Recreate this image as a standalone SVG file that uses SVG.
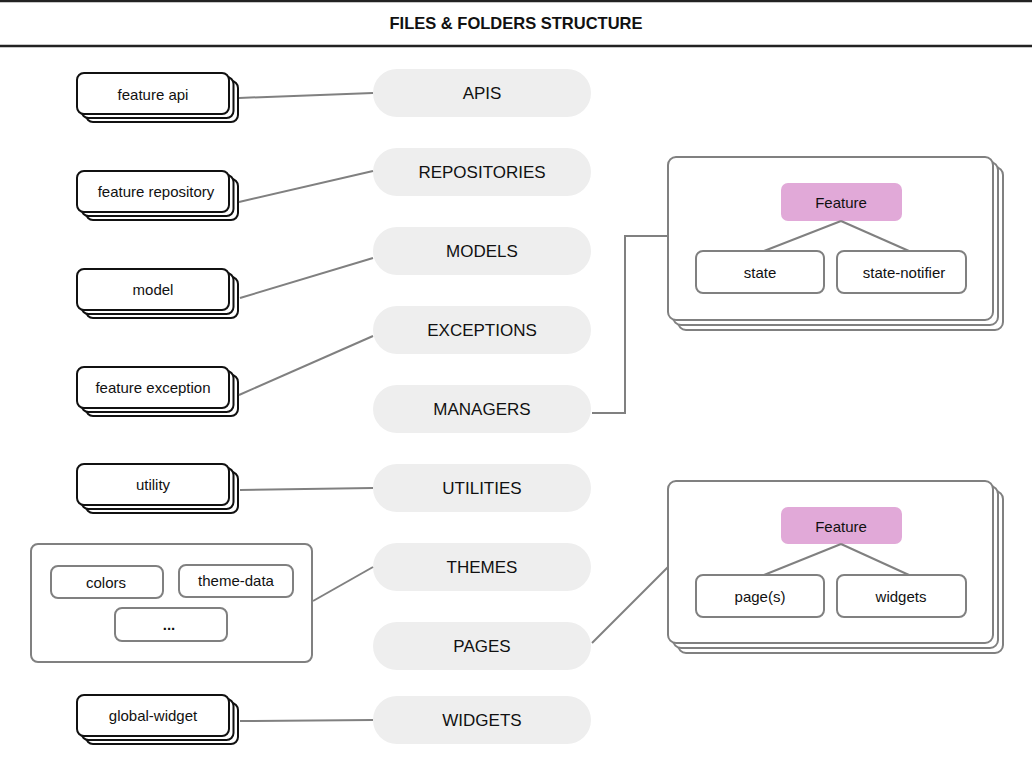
<svg xmlns="http://www.w3.org/2000/svg" width="1032" height="778" viewBox="0 0 1032 778">
<style>
.bg{fill:#ffffff}
.rule{stroke:#222;stroke-width:2.5}
.title{font-family:"Liberation Sans",Arial,sans-serif;font-weight:bold;font-size:16.5px;fill:#111;text-anchor:middle;dominant-baseline:central}
.card{fill:#fff;stroke:#111;stroke-width:2}
.pill{fill:#eeeeee}
.pt{font-family:"Liberation Sans",Arial,sans-serif;font-size:17px;fill:#111;text-anchor:middle;dominant-baseline:central}
.t{font-family:"Liberation Sans",Arial,sans-serif;font-size:15px;fill:#111;text-anchor:middle;dominant-baseline:central}
.gbox{fill:#fff;stroke:#808080;stroke-width:2}
.feat{fill:#e1a9d8}
.conn{fill:none;stroke:#808080;stroke-width:2}
</style>
<rect class="bg" x="0" y="0" width="1032" height="778"/>
<g id="title">
<line class="rule" x1="0" y1="1" x2="1032" y2="1"/>
<line class="rule" x1="0" y1="46" x2="1032" y2="46"/>
<text class="title" x="516" y="23">FILES &amp; FOLDERS STRUCTURE</text>
</g>

<g id="pill-apis"><rect class="pill" x="373" y="69" width="218" height="48" rx="24"/><text class="pt" x="482" y="93">APIS</text></g>
<g id="pill-repositories"><rect class="pill" x="373" y="148" width="218" height="48" rx="24"/><text class="pt" x="482" y="172">REPOSITORIES</text></g>
<g id="pill-models"><rect class="pill" x="373" y="227" width="218" height="48" rx="24"/><text class="pt" x="482" y="251">MODELS</text></g>
<g id="pill-exceptions"><rect class="pill" x="373" y="306" width="218" height="48" rx="24"/><text class="pt" x="482" y="330">EXCEPTIONS</text></g>
<g id="pill-managers"><rect class="pill" x="373" y="385" width="218" height="48" rx="24"/><text class="pt" x="482" y="409">MANAGERS</text></g>
<g id="pill-utilities"><rect class="pill" x="373" y="464" width="218" height="48" rx="24"/><text class="pt" x="482" y="488">UTILITIES</text></g>
<g id="pill-themes"><rect class="pill" x="373" y="543" width="218" height="48" rx="24"/><text class="pt" x="482" y="567">THEMES</text></g>
<g id="pill-pages"><rect class="pill" x="373" y="622" width="218" height="48" rx="24"/><text class="pt" x="482" y="646">PAGES</text></g>
<g id="pill-widgets"><rect class="pill" x="373" y="696" width="218" height="48" rx="24"/><text class="pt" x="482" y="720">WIDGETS</text></g>

<g id="node-feature-api">
<rect class="card" x="86" y="81" width="152" height="41" rx="7"/>
<rect class="card" x="81.5" y="77" width="152" height="41" rx="7"/>
<rect class="card" x="77" y="73" width="152" height="41" rx="7"/>
<text class="t" x="153" y="94">feature api</text>
</g>
<g id="node-feature-repository">
<rect class="card" x="86" y="179" width="152" height="41" rx="7"/>
<rect class="card" x="81.5" y="175" width="152" height="41" rx="7"/>
<rect class="card" x="77" y="171" width="152" height="41" rx="7"/>
<text class="t" x="156" y="191">feature repository</text>
</g>
<g id="node-model">
<rect class="card" x="86" y="277" width="152" height="41" rx="7"/>
<rect class="card" x="81.5" y="273" width="152" height="41" rx="7"/>
<rect class="card" x="77" y="269" width="152" height="41" rx="7"/>
<text class="t" x="153" y="289">model</text>
</g>
<g id="node-feature-exception">
<rect class="card" x="86" y="375" width="152" height="41" rx="7"/>
<rect class="card" x="81.5" y="371" width="152" height="41" rx="7"/>
<rect class="card" x="77" y="367" width="152" height="41" rx="7"/>
<text class="t" x="153" y="387">feature exception</text>
</g>
<g id="node-utility">
<rect class="card" x="86" y="472" width="152" height="41" rx="7"/>
<rect class="card" x="81.5" y="468" width="152" height="41" rx="7"/>
<rect class="card" x="77" y="464" width="152" height="41" rx="7"/>
<text class="t" x="153" y="484">utility</text>
</g>
<g id="node-global-widget">
<rect class="card" x="86" y="703" width="152" height="41" rx="7"/>
<rect class="card" x="81.5" y="699" width="152" height="41" rx="7"/>
<rect class="card" x="77" y="695" width="152" height="41" rx="7"/>
<text class="t" x="153" y="715">global-widget</text>
</g>

<g id="node-themes-group">
<rect class="gbox" x="31" y="544" width="281" height="118" rx="7"/>
<rect class="gbox" x="51" y="566" width="112" height="32" rx="7"/>
<text class="t" x="106" y="582">colors</text>
<rect class="gbox" x="179" y="565" width="114" height="32" rx="7"/>
<text class="t" x="236" y="580">theme-data</text>
<rect class="gbox" x="115" y="608" width="112" height="33" rx="7"/>
<text class="t" x="169" y="624" font-weight="bold">...</text>
</g>

<g id="node-managers-feature">
<rect class="gbox" x="678" y="167" width="325" height="163" rx="8"/>
<rect class="gbox" x="673" y="162" width="325" height="163" rx="8"/>
<rect class="gbox" x="668" y="157" width="325" height="163" rx="8"/>
<rect class="feat" x="781" y="183" width="121" height="38" rx="7"/>
<text class="t" x="841" y="202">Feature</text>
<rect class="gbox" x="696" y="251" width="128" height="42" rx="7"/>
<text class="t" x="760" y="272">state</text>
<rect class="gbox" x="837" y="251" width="129" height="42" rx="7"/>
<text class="t" x="904" y="272">state-notifier</text>
</g>

<g id="node-pages-feature">
<rect class="gbox" x="678" y="491" width="325" height="162" rx="8"/>
<rect class="gbox" x="673" y="486" width="325" height="162" rx="8"/>
<rect class="gbox" x="668" y="481" width="325" height="162" rx="8"/>
<rect class="feat" x="781" y="507" width="121" height="37" rx="7"/>
<text class="t" x="841" y="526">Feature</text>
<rect class="gbox" x="696" y="575" width="128" height="42" rx="7"/>
<text class="t" x="760" y="596">page(s)</text>
<rect class="gbox" x="837" y="575" width="129" height="42" rx="7"/>
<text class="t" x="901" y="596">widgets</text>
</g>

<g id="connectors">
<line class="conn" x1="239" y1="98" x2="373" y2="93"/>
<line class="conn" x1="239" y1="202" x2="373" y2="171"/>
<line class="conn" x1="240" y1="298" x2="373" y2="258"/>
<line class="conn" x1="239" y1="395" x2="373" y2="336"/>
<line class="conn" x1="240" y1="490" x2="373" y2="488"/>
<line class="conn" x1="313" y1="601" x2="373" y2="567"/>
<line class="conn" x1="240" y1="721" x2="373" y2="720"/>
<polyline class="conn" points="592,413 625,413 625,236 668,236"/>
<line class="conn" x1="592" y1="643" x2="668" y2="567"/>
<line class="conn" x1="841" y1="221" x2="764" y2="251"/>
<line class="conn" x1="841" y1="221" x2="909" y2="251"/>
<line class="conn" x1="841" y1="544" x2="764" y2="575"/>
<line class="conn" x1="841" y1="544" x2="909" y2="575"/>
</g>
</svg>
